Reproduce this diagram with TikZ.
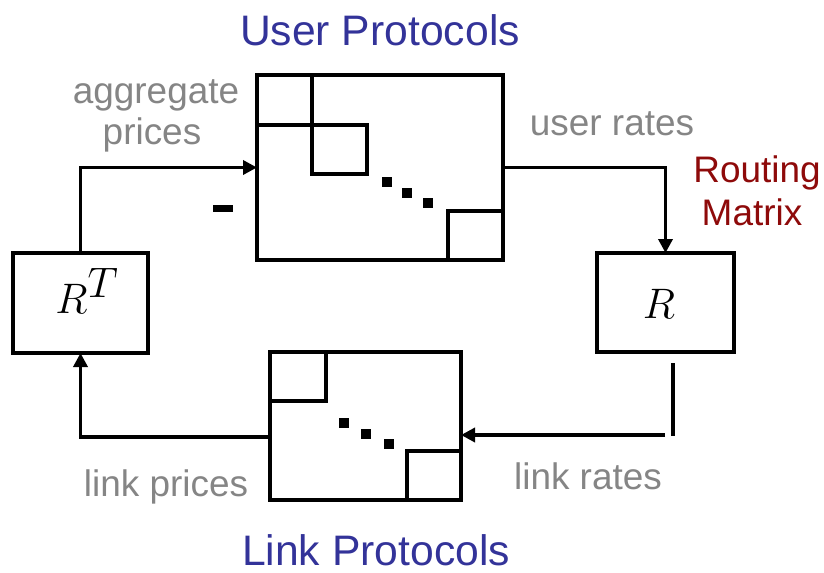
\documentclass[tikz,border=0pt]{standalone}
\usepackage{fix-cm}
\usepackage{fontspec}
\setmainfont{Liberation Sans}
\usetikzlibrary{arrows.meta,calc}
\definecolor{protoblue}{HTML}{333399}
\definecolor{routred}{HTML}{8E0A0A}
\definecolor{labelgray}{HTML}{858585}
\tikzset{
  blk/.style={draw, line width=2.4pt, rectangle, inner sep=0pt, outer sep=0pt},
  sub/.style={line width=2.4pt},
  flow/.style={line width=2.6pt, -{Triangle[length=10.5pt,width=10.5pt]}},
  wire/.style={line width=2.6pt},
  title/.style={text=protoblue, font=\fontsize{32}{38}\selectfont, anchor=base, inner sep=0pt},
  lbl/.style={text=labelgray, font=\fontsize{27.7}{31}\selectfont, anchor=base, align=center, inner sep=0pt},
  mathlbl/.style={font=\fontsize{32}{40}\selectfont, inner sep=0pt}
}
\begin{document}
\begin{tikzpicture}[x=0.75pt,y=-0.75pt]
\useasboundingbox (0,0) rectangle (824,572);

% block-diagonal matrices of the protocols
\node[blk, minimum width=184.5pt, minimum height=138.75pt] (um) at (380,167.5) {};
\node[blk, minimum width=143.25pt, minimum height=111pt] (lm) at (365.5,426) {};

% routing matrix and its transpose
\node[blk, minimum width=102.75pt, minimum height=74.25pt] (R) at (665.5,302.5) {};
\node[blk, minimum width=101.25pt, minimum height=75pt] (RT) at (80.5,303) {};
\node[mathlbl, anchor=base] (Rl) at (659,318) {$R$};
\node[mathlbl, anchor=base] (RTl) at (87,313) {$R^{\textstyle T}$};

% diagonal blocks of the user matrix
\draw[sub] (um.north west) rectangle (312,125);
\draw[sub] (312,125) rectangle (367,174);
\draw[sub] (448,211) rectangle (um.south east);
\fill (381.5,177) rectangle (391.5,187);
\fill (402,187.5) rectangle (412,197.5);
\fill (423,198) rectangle (433,208);

% diagonal blocks of the link matrix
\draw[sub] (lm.north west) rectangle (326,401);
\draw[sub] (407,451) rectangle (lm.south east);
\fill (339,418) rectangle (349,428);
\fill (361,429) rectangle (371,439);
\fill (384,439) rectangle (394,449);

% minus sign on the price feedback
\fill (213,205) rectangle (233,212);

% connectors
\coordinate (ltop) at (673,363);
\coordinate (lbot) at (673,436);
\coordinate (lin) at (665,435);
\coordinate (lout) at (270,437);
\draw[flow] (RT.north) |- (um.west);
\draw[flow] (um.east) -| (R.north);
\draw[wire] (ltop) -- (lbot);
\draw[flow] (lin) -- (lin -| lm.east);
\draw[flow] (lout) -| (RT.south);

% titles and labels
\node[title] (ut) at (380,45) {User Protocols};
\node[title] (lt) at (376,565) {Link Protocols};
\node[lbl] (ag) at (156,103) {aggregate};
\node[lbl] (pr) at (152,144) {prices};
\node[lbl] (ur) at (612,135) {user rates};
\node[lbl, text=routred] (rm1) at (757,182) {Routing};
\node[lbl, text=routred] (rm2) at (752,225) {Matrix};
\node[lbl] (lp) at (166,496) {link prices};
\node[lbl] (lr) at (588,489) {link rates};
\end{tikzpicture}
\end{document}
